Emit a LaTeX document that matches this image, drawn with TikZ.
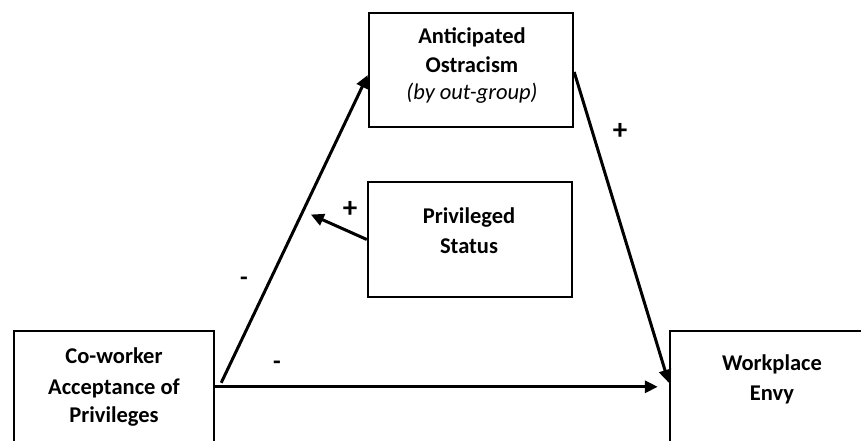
\documentclass[tikz,border=0pt]{standalone}
\usepackage{fontspec}
\setmainfont{Carlito}
\usetikzlibrary{arrows.meta,calc}
\begin{document}
\begin{tikzpicture}[x=1pt,y=-1pt,
  box/.style={draw=black,line width=2.4pt,rectangle,inner sep=0pt},
  lbl/.style={font=\fontsize{22.5}{28}\selectfont\bfseries,align=center,anchor=base,inner sep=0pt},
  sgn/.style={font=\fontsize{29}{32}\selectfont\bfseries,inner sep=0pt},
  msgn/.style={font=\fontsize{25}{28}\selectfont\bfseries,inner sep=0pt},
  arr/.style={line width=3pt,-{Triangle[length=13pt,width=12pt]}}]
\useasboundingbox[fill=white] (0,0) rectangle (861,441);
% boxes
\node[box,minimum width=204pt,minimum height=114pt] (ao) at (471,70) {};
\node[box,minimum width=204pt,minimum height=115pt] (ps) at (470,239.5) {};
\node[box,minimum width=200pt,minimum height=139pt] (cw) at (114,400.5) {};
\node[box,minimum width=240pt,minimum height=139pt] (we) at (790,400.5) {};
% texts
\node[lbl] (aot1) at (472,44) {Anticipated};
\node[lbl] (aot2) at (472,73) {Ostracism};
\node[lbl,font=\fontsize{22.5}{28}\selectfont\itshape] (aot3) at (472,100) {(by out-group)};
\node[lbl] (pst1) at (469,223) {Privileged};
\node[lbl] (pst2) at (469,253) {Status};
\node[lbl] (cwt1) at (114,363) {Co-worker};
\node[lbl] (cwt2) at (114,394) {Acceptance of};
\node[lbl] (cwt3) at (114,422) {Privileges};
\node[lbl] (wet1) at (772,370) {Workplace};
\node[lbl] (wet2) at (772,400) {Envy};
% connectors
\draw[arr] ($(cw.north east)+(6,53)$) -- ($(ao.west)+(0,5)$);
\draw[arr] ($(cw.north east)+(0,57)$) -- ($(we.north west)+(-11,57)$);
\draw[arr] ($(ao.east)+(0,2)$) -- ($(we.north west)+(0,53)$);
\coordinate (pend) at ($(ps.west)+(-56,-25)$);
\draw[arr] (ps.west) -- (pend);
% signs
\node[sgn] (s1) at (620,131) {+};
\node[sgn] (s2) at (350,209) {+};
\node[msgn] (s3) at (244,281) {-};
\node[msgn] (s4) at (277,365) {-};
\end{tikzpicture}
\end{document}
